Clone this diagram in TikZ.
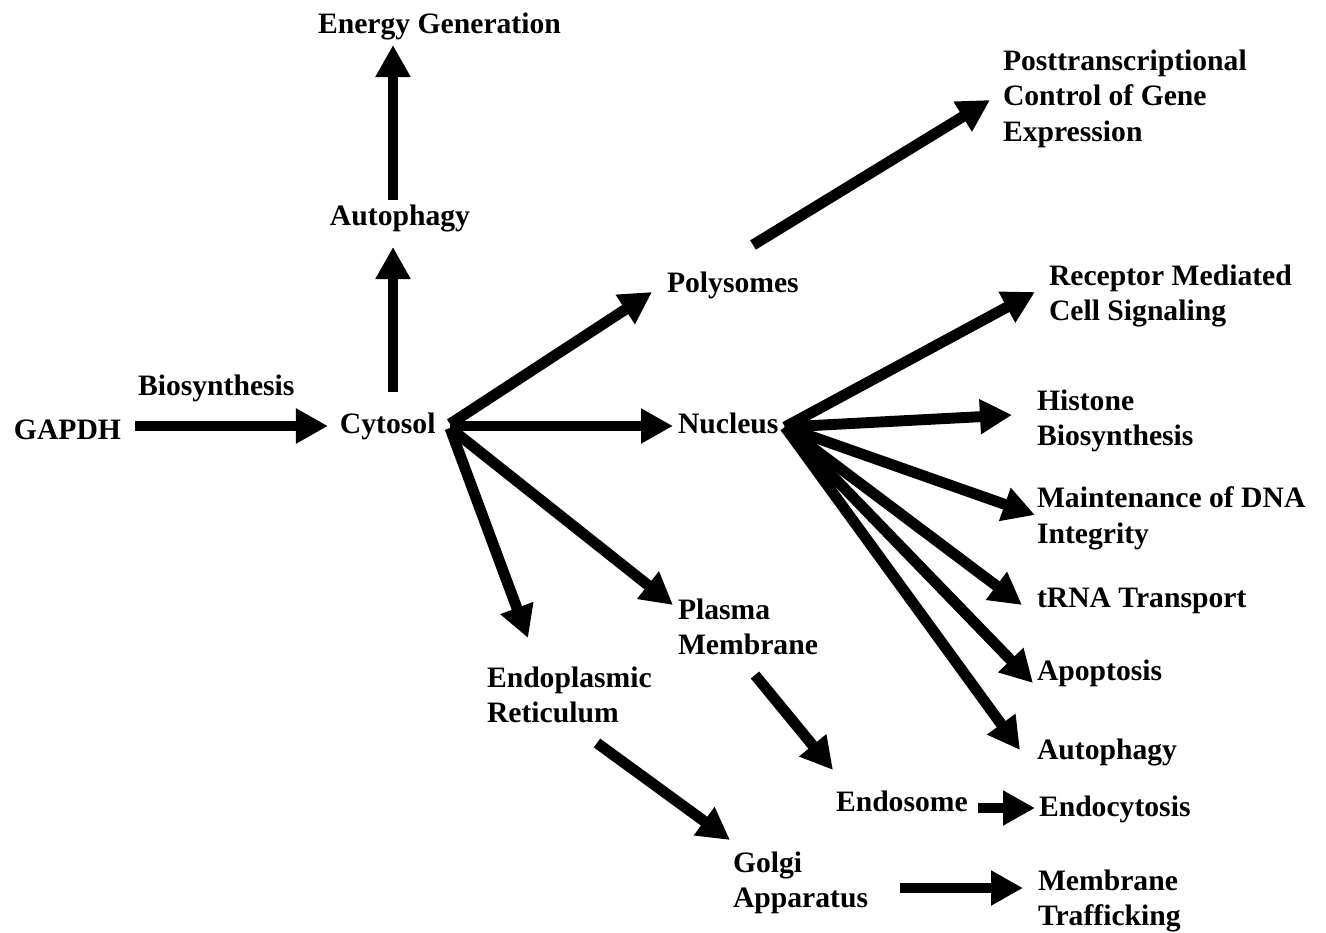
\documentclass[tikz,border=0pt]{standalone}
\usepackage{fontspec}
\setmainfont{Liberation Serif}
\usetikzlibrary{arrows.meta,calc}
\tikzset{
  lbl/.style={anchor=north west, inner sep=0pt, outer sep=0pt, align=left,
    font=\fontsize{8.43pt}{10.06pt}\selectfont\bfseries},
  arr/.style={line width=3.1pt, -{Triangle[length=9.1pt,width=9.4pt]}}
}
\begin{document}
\begin{tikzpicture}[x=0.01cm,y=-0.01cm]
\path[use as bounding box, fill=white] (0,0) rectangle (1326,933);
% nodes
\node[lbl] (gapdh) at (14,420) {GAPDH};
\node[lbl] (bios) at (138,375) {Biosynthesis};
\node[lbl] (cytosol) at (340,413) {Cytosol};
\node[lbl] (auto1) at (330,205) {Autophagy};
\node[lbl] (energy) at (318,13) {Energy Generation};
\node[lbl] (poly) at (667,272) {Polysomes};
\node[lbl] (nucleus) at (678,413) {Nucleus};
\node[lbl] (post) at (1003,50) {Posttranscriptional\\Control of Gene\\Expression};
\node[lbl] (receptor) at (1049,265) {Receptor Mediated\\Cell Signaling};
\node[lbl] (histone) at (1037,390) {Histone\\Biosynthesis};
\node[lbl] (maint) at (1037,487) {Maintenance of DNA\\Integrity};
\node[lbl] (trna) at (1037,588) {tRNA Transport};
\node[lbl] (apop) at (1037,660) {Apoptosis};
\node[lbl] (auto2) at (1037,739) {Autophagy};
\node[lbl] (endocyt) at (1039,796) {Endocytosis};
\node[lbl] (memtraf) at (1038,870) {Membrane\\Trafficking};
\node[lbl] (plasma) at (678,599) {Plasma\\Membrane};
\node[lbl] (er) at (487,667) {Endoplasmic\\Reticulum};
\node[lbl] (endosome) at (836,791) {Endosome};
\node[lbl] (golgi) at (733,852) {Golgi\\Apparatus};
% connectors
\draw[arr] ($(gapdh.north west)+(121,6)$) -- ($(cytosol.north west)+(-12,13)$);
\draw[arr] ($(cytosol.north west)+(53,-21)$) -- ($(auto1.north west)+(63,42)$);
\draw[arr] ($(auto1.north west)+(63,-5)$) -- ($(energy.north west)+(75,32)$);
\draw[arr] ($(cytosol.north west)+(110,11)$) -- ($(poly.north west)+(-15,20)$);
\draw[arr] ($(cytosol.north west)+(110,13)$) -- ($(nucleus.north west)+(-5,13)$);
\draw[arr] ($(cytosol.north west)+(110,15)$) -- ($(plasma.north west)+(-5,6)$);
\draw[arr] ($(cytosol.north west)+(110,15)$) -- ($(er.north west)+(41,-29)$);
\draw[arr] ($(poly.north west)+(86,-27)$) -- ($(post.north west)+(-13,50)$);
\draw[arr] ($(nucleus.north west)+(107,14)$) -- ($(receptor.north west)+(-14,27)$);
\draw[arr] ($(nucleus.north west)+(107,14)$) -- ($(histone.north west)+(-25,25)$);
\draw[arr] ($(nucleus.north west)+(107,14)$) -- ($(maint.north west)+(-2,28)$);
\draw[arr] ($(nucleus.north west)+(107,14)$) -- ($(trna.north west)+(-15,17)$);
\draw[arr] ($(nucleus.north west)+(107,14)$) -- ($(apop.north west)+(-4,23)$);
\draw[arr] ($(nucleus.north west)+(107,14)$) -- ($(auto2.north west)+(-17,11)$);
\draw[arr] ($(plasma.north west)+(77,76)$) -- ($(endosome.north west)+(-3,-21)$);
\draw[arr] ($(er.north west)+(110,76)$) -- ($(golgi.north west)+(-3,-12)$);
\draw[arr] ($(endosome.north west)+(142,17)$) -- ($(endocyt.north west)+(-4,12)$);
\draw[arr] ($(golgi.north west)+(167,36)$) -- ($(memtraf.north west)+(-15,18)$);
\end{tikzpicture}
\end{document}
